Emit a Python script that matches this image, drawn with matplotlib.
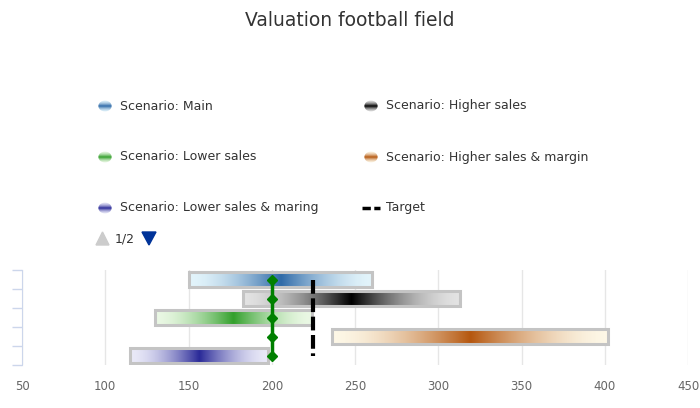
import numpy as np
import matplotlib
matplotlib.use("Agg")
import matplotlib.pyplot as plt
from matplotlib.colors import LinearSegmentedColormap
from matplotlib.patches import Rectangle, Ellipse, Polygon

# data
scenarios = [
    "Scenario: Main",
    "Scenario: Higher sales",
    "Scenario: Lower sales",
    "Scenario: Higher sales & margin",
    "Scenario: Lower sales & maring",
]
low = [150, 183, 130, 236, 115]
high = [260, 313, 224, 402, 198]
current = [200, 200, 200, 200, 200]
target = 225
x_ticks = [50, 100, 150, 200, 250, 300, 350, 400, 450]

dark = ["#2f6aa8", "#000000", "#33a02c", "#b5570f", "#2a2a98"]
light = ["#e2f4fb", "#e2e2e2", "#eaf8e4", "#fdf7e6", "#e9e9f8"]

W, H = 700, 408
fig = plt.figure(figsize=(W / 100, H / 100), dpi=100)
plt.rcParams["font.family"] = ["DejaVu Sans"]


def px(x0, y0, w, h):
    return [x0 / W, 1 - (y0 + h) / H, w / W, h / H]


# peaked gradient: light at both ends, dark in the middle
xs = np.linspace(0, 1, 256)
peak = (1 - np.abs(2 * xs - 1)) ** 1.7
grad = peak.reshape(1, -1)

ax = fig.add_axes(px(22, 270, 666, 95))
bar_h = 0.84
for i in range(len(scenarios)):
    cmap = LinearSegmentedColormap.from_list("g%d" % i, [light[i], dark[i]])
    ax.imshow(grad, cmap=cmap, vmin=0, vmax=1, aspect="auto", interpolation="bilinear",
              extent=(low[i], high[i], i + bar_h / 2, i - bar_h / 2), zorder=2)
    ax.add_patch(Rectangle((low[i], i - bar_h / 2), high[i] - low[i], bar_h,
                           fill=False, edgecolor="#c4c4c4", lw=2.2, zorder=3))

ax.plot(current, range(len(scenarios)), color="#008000", lw=2.5, marker="D",
        markersize=5, zorder=5)
ax.plot([target, target], [0, len(scenarios) - 1], color="black", lw=3,
        dashes=(3.3, 1.1), zorder=4)

ax.set_xlim(50, 450)
ax.set_ylim(len(scenarios) - 0.5, -0.5)
ax.set_xticks(x_ticks)
ax.set_yticks(np.arange(-0.5, len(scenarios), 1))
ax.set_yticklabels([])
ax.grid(axis="x", color="#e6e6e6", lw=1, zorder=0)
ax.set_axisbelow(True)
for s in ["top", "right", "bottom"]:
    ax.spines[s].set_visible(False)
ax.spines["left"].set_color("#ccd6eb")
ax.tick_params(axis="y", length=7.5, color="#ccd6eb", width=1)
ax.tick_params(axis="x", length=0, pad=11, labelsize=8.5, labelcolor="#666666")

fig.text(0.5, 1 - 20 / H, "Valuation football field", ha="center", va="center",
         fontsize=13.5, color="#333333")

# legend
rows_y = [106, 157, 208]
cols_x = [98, 364]
items = [(0, 0, 0), (1, 1, 0), (2, 0, 1), (3, 1, 1), (4, 0, 2)]
for idx, c, r in items:
    mx, my = cols_x[c], rows_y[r]
    lax = fig.add_axes(px(mx, my - 6, 14, 12))
    lax.set_xlim(0, 1)
    lax.set_ylim(0, 1)
    lax.axis("off")
    cmap = LinearSegmentedColormap.from_list("l%d" % idx, [light[idx], dark[idx]])
    im = lax.imshow(grad.T, cmap=cmap, vmin=0, vmax=1, aspect="auto",
                    extent=(0, 1, 0, 1), interpolation="bilinear")
    ell = Ellipse((0.5, 0.5), 0.95, 0.9, transform=lax.transAxes, facecolor="none",
                  edgecolor="none")
    lax.add_patch(ell)
    im.set_clip_path(ell)
    fig.text((cols_x[c] + 22) / W, 1 - my / H, scenarios[idx], ha="left", va="center",
             fontsize=9, color="#333333")

# target legend entry
tax = fig.add_axes(px(361, 202, 20, 12))
tax.set_xlim(0, 1)
tax.set_ylim(0, 1)
tax.axis("off")
tax.plot([0.05, 0.95], [0.5, 0.5], color="black", lw=2.5, dashes=(2.4, 1.0))
fig.text(386 / W, 1 - 208 / H, "Target", ha="left", va="center", fontsize=9,
         color="#333333")

# pagination
pax = fig.add_axes([0, 0, 1, 1], facecolor="none")
pax.set_xlim(0, W)
pax.set_ylim(H, 0)
pax.axis("off")
pax.add_patch(Polygon([[96, 245], [109, 245], [102.5, 232]], color="#cccccc"))
pax.add_patch(Polygon([[142, 232], [156, 232], [149, 245]], color="#003399"))
pax.text(125, 238.5, "1/2", ha="center", va="center", fontsize=9, color="#333333")

fig.savefig("out.png", dpi=100)
